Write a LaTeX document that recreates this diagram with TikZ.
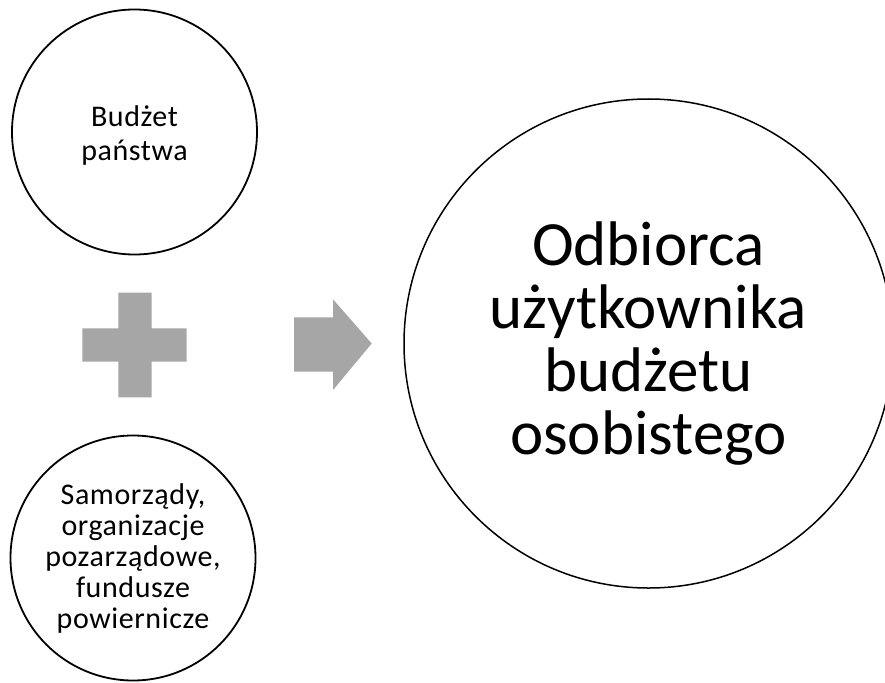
\documentclass[tikz,border=0pt]{standalone}
\usepackage{fontspec}
\setmainfont{Carlito}
\newfontfamily\widefont[LetterSpace=2]{Carlito}
\definecolor{shapegray}{RGB}{166,166,166}
\begin{document}
\begin{tikzpicture}[x=1pt,y=-1pt,
  ring/.style={circle,draw=black,line width=1.8pt,fill=white,inner sep=0pt,align=center},
  toptxt/.style={font=\widefont\fontsize{30}{34}\selectfont,align=center,inner sep=0pt},
  bottxt/.style={font=\widefont\fontsize{30}{31}\selectfont},
  bigtxt/.style={font=\fontsize{63}{63}\selectfont},
  shapefill/.style={fill=shapegray,draw=none}]
\useasboundingbox (0,0) rectangle (885,682);
\clip (0,0) rectangle (885,682);
\node[ring,minimum size=245pt] (budzet) at (134.5,132) {};
\node[toptxt] (budzettxt) at ([yshift=-4pt]budzet.center) {Budżet\\państwa};
\node[ring,bottxt,minimum size=245pt] (samorzady) at (133,558) {Samorządy,\\organizacje\\pozarządowe,\\fundusze\\powiernicze};
\node[ring,bigtxt,line width=1.5pt,minimum size=489pt] (odbiorca) at (648.5,343.5) {Odbiorca\\użytkownika\\budżetu\\osobistego};
% plus sign
\fill[shapefill] (118.3,292.7) -- (151.7,292.7) -- (151.7,328.3) -- (186.7,328.3) -- (186.7,361.7)
  -- (151.7,361.7) -- (151.7,397.3) -- (118.3,397.3) -- (118.3,361.7) -- (82.3,361.7)
  -- (82.3,328.3) -- (118.3,328.3) -- cycle;
% arrow
\fill[shapefill] (294,317.3) -- (333,317.3) -- (333,299.3) -- (371.7,343.5) -- (333,390)
  -- (333,371.7) -- (294,371.7) -- cycle;
\end{tikzpicture}
\end{document}
